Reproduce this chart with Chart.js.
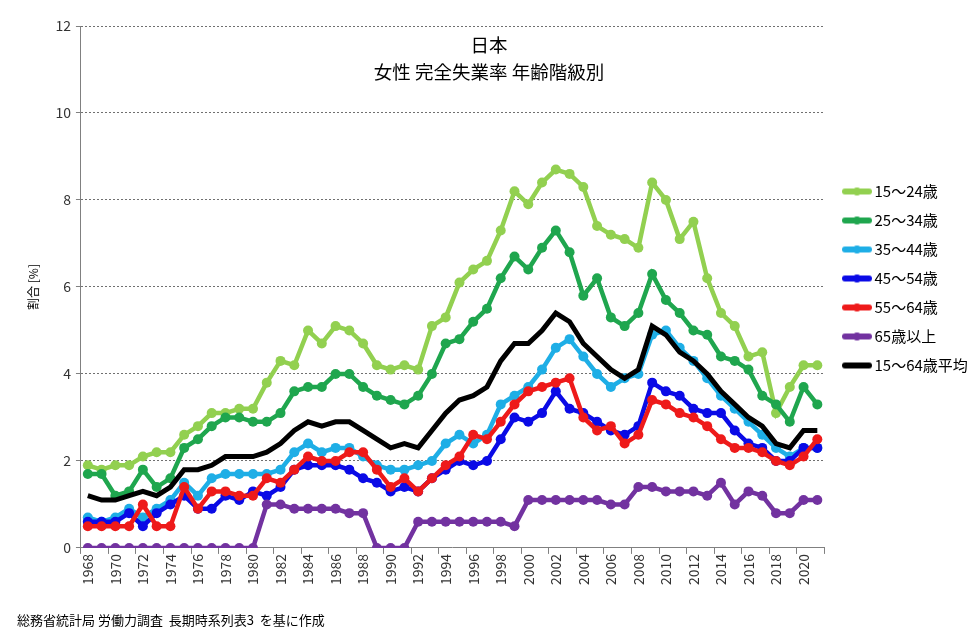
<html>
<head>
<meta charset="utf-8">
<style>
  body { margin: 0; background: #fff; }
  #wrap { position: relative; width: 978px; height: 639px; }
  #title { position: absolute; left: 0; top: 31px; width: 978px; text-align: center;
           font: 18.5px "Noto Sans CJK JP", sans-serif; line-height: 27px; color: #000; }
  #source { position: absolute; left: 17px; top: 610px; white-space: pre;
            font: 13px "Noto Sans CJK JP", sans-serif; color: #000; }
</style>
</head>
<body>
<div id="wrap">
  <canvas id="myChart" width="978" height="639"></canvas>
  <div id="title">日本<br>女性 完全失業率 年齢階級別</div>
  <div id="source">総務省統計局 労働力調査  長期時系列表3  を基に作成</div>
</div>

<script src="https://cdn.jsdelivr.net/npm/chart.js"></script>
<script>
  const years = ['1968','1969','1970','1971','1972','1973','1974','1975','1976','1977',
                 '1978','1979','1980','1981','1982','1983','1984','1985','1986','1987',
                 '1988','1989','1990','1991','1992','1993','1994','1995','1996','1997',
                 '1998','1999','2000','2001','2002','2003','2004','2005','2006','2007',
                 '2008','2009','2010','2011','2012','2013','2014','2015','2016','2017',
                 '2018','2019','2020','2021'];

  const age15_24 = [1.9,1.8,1.9,1.9,2.1,2.2,2.2,2.6,2.8,3.1, 3.1,3.2,3.2,3.8,4.3,4.2,5.0,4.7,5.1,5.0,
                    4.7,4.2,4.1,4.2,4.1,5.1,5.3,6.1,6.4,6.6, 7.3,8.2,7.9,8.4,8.7,8.6,8.3,7.4,7.2,7.1,
                    6.9,8.4,8.0,7.1,7.5,6.2,5.4,5.1,4.4,4.5, 3.1,3.7,4.2,4.2];
  const age25_34 = [1.7,1.7,1.2,1.3,1.8,1.4,1.6,2.3,2.5,2.8, 3.0,3.0,2.9,2.9,3.1,3.6,3.7,3.7,4.0,4.0,
                    3.7,3.5,3.4,3.3,3.5,4.0,4.7,4.8,5.2,5.5, 6.2,6.7,6.4,6.9,7.3,6.8,5.8,6.2,5.3,5.1,
                    5.4,6.3,5.7,5.4,5.0,4.9,4.4,4.3,4.1,3.5, 3.3,2.9,3.7,3.3];
  const age35_44 = [0.7,0.6,0.7,0.9,0.7,0.9,1.1,1.5,1.2,1.6, 1.7,1.7,1.7,1.7,1.8,2.2,2.4,2.2,2.3,2.3,
                    2.1,1.9,1.8,1.8,1.9,2.0,2.4,2.6,2.4,2.6, 3.3,3.5,3.7,4.1,4.6,4.8,4.4,4.0,3.7,3.9,
                    4.0,4.9,5.0,4.6,4.3,3.9,3.5,3.2,2.9,2.6, 2.3,2.1,2.3,2.3];
  const age45_54 = [0.6,0.6,0.6,0.8,0.5,0.8,1.0,1.2,0.9,0.9, 1.2,1.1,1.3,1.2,1.4,1.8,1.9,1.9,1.9,1.8,
                    1.6,1.5,1.3,1.4,1.3,1.6,1.8,2.0,1.9,2.0, 2.5,3.0,2.9,3.1,3.6,3.2,3.1,2.9,2.7,2.6,
                    2.8,3.8,3.6,3.5,3.2,3.1,3.1,2.7,2.4,2.3, 2.0,2.0,2.3,2.3];
  const age55_64 = [0.5,0.5,0.5,0.5,1.0,0.5,0.5,1.4,0.9,1.3, 1.3,1.2,1.2,1.6,1.5,1.8,2.1,2.0,2.0,2.2,
                    2.2,1.8,1.4,1.6,1.3,1.6,1.9,2.1,2.6,2.5, 2.9,3.3,3.6,3.7,3.8,3.9,3.0,2.7,2.8,2.4,
                    2.6,3.4,3.3,3.1,3.0,2.8,2.5,2.3,2.3,2.2, 2.0,1.9,2.1,2.5];
  const age65plus = [0,0,0,0,0,0,0,0,0,0, 0,0,0,1.0,1.0,0.9,0.9,0.9,0.9,0.8,
                     0.8,0,0,0,0.6,0.6,0.6,0.6,0.6,0.6, 0.6,0.5,1.1,1.1,1.1,1.1,1.1,1.1,1.0,1.0,
                     1.4,1.4,1.3,1.3,1.3,1.2,1.5,1.0,1.3,1.2, 0.8,0.8,1.1,1.1];
  const avg15_64 = [1.2,1.1,1.1,1.2,1.3,1.2,1.4,1.8,1.8,1.9, 2.1,2.1,2.1,2.2,2.4,2.7,2.9,2.8,2.9,2.9,
                    2.7,2.5,2.3,2.4,2.3,2.7,3.1,3.4,3.5,3.7, 4.3,4.7,4.7,5.0,5.4,5.2,4.7,4.4,4.1,3.9,
                    4.1,5.1,4.9,4.5,4.3,4.0,3.6,3.3,3.0,2.8, 2.4,2.3,2.7,2.7];

  const seriesNames = ['15～24歳','25～34歳','35～44歳','45～54歳','55～64歳','65歳以上','15～64歳平均'];
  const seriesData = [age15_24, age25_34, age35_44, age45_54, age55_64, age65plus, avg15_64];
  const colors = ['#92d050','#1fa64e','#1eaee6','#0a0ae6','#ee1a1a','#7232a0','#000000'];
  const yTicks = [0, 2, 4, 6, 8, 10, 12];

  // little line-with-dot picture for the legend
  function legendIcon(color, dot) {
    const c = document.createElement('canvas');
    c.width = 30; c.height = 12;
    const g = c.getContext('2d');
    g.strokeStyle = color; g.lineWidth = 6; g.lineCap = 'round';
    g.beginPath(); g.moveTo(3, 6); g.lineTo(27, 6); g.stroke();
    if (dot) {
      g.fillStyle = color;
      g.beginPath(); g.arc(15, 6, 4, 0, Math.PI * 2); g.fill();
    }
    return c;
  }

  const datasets = seriesData.map((d, i) => {
    const isAvg = i === seriesData.length - 1;
    return {
      label: seriesNames[i],
      data: d,
      borderColor: colors[i],
      backgroundColor: colors[i],
      borderWidth: isAvg ? 5 : 4.5,
      pointRadius: isAvg ? 0 : 5,
      pointHoverRadius: isAvg ? 0 : 5,
      pointBorderWidth: 0,
      tension: 0,
      order: seriesData.length - 1 - i,
      icon: legendIcon(colors[i], !isAvg)
    };
  });

  // put the legend where the original has it
  const legendSpot = {
    id: 'legendSpot',
    afterLayout(c) {
      const lg = c.legend;
      const dx = 833 - lg.left;
      const dy = 177 - (lg.top + lg.bottom - lg.columnSizes[0].height) / 2;
      lg.left += dx; lg.right += dx;
      lg.top += dy; lg.bottom += dy;
    }
  };

  const ctx = document.getElementById('myChart');

  chart = new Chart(ctx, {
    type: 'line',
    data: { labels: years, datasets: datasets },
    plugins: [legendSpot],
    options: {
      responsive: false,
      animation: false,
      layout: { padding: { left: 26, right: 9, top: 26, bottom: 54 } },
      plugins: {
        title: { display: false },
        tooltip: { enabled: false },
        legend: {
          position: 'right',
          labels: {
            usePointStyle: true,
            pointStyleWidth: 20,
            padding: 14,
            color: '#000',
            font: { family: '"Noto Sans CJK JP", sans-serif', size: 15 },
            sort: (a, b) => a.datasetIndex - b.datasetIndex,
            generateLabels: (c) => Chart.defaults.plugins.legend.labels.generateLabels(c).map((l) => {
              l.pointStyle = c.data.datasets[l.datasetIndex].icon;
              return l;
            })
          }
        }
      },
      scales: {
        x: {
          offset: true,
          grid: {
            offset: true,
            drawOnChartArea: false,
            tickLength: 6,
            color: (c) => (c.index === undefined || c.index % 2 === 0) ? '#808080' : 'rgba(0,0,0,0)'
          },
          border: { color: '#808080', width: 1 },
          ticks: {
            autoSkip: false,
            maxRotation: 90,
            minRotation: 90,
            padding: 0,
            color: '#333',
            font: { family: '"Noto Sans CJK JP", sans-serif', size: 14 },
            callback: (v, i) => (i % 2 === 0 ? years[i] : '')
          }
        },
        y: {
          min: 0,
          max: 12,
          afterBuildTicks: (s) => { s.ticks = yTicks.map((v) => ({ value: v })); },
          grid: { color: '#707070', lineWidth: 1, tickLength: 5, tickColor: '#808080' },
          border: { color: '#808080', width: 1, dash: [2, 2] },
          ticks: {
            padding: 5,
            color: '#333',
            font: { family: '"Noto Sans CJK JP", sans-serif', size: 14 }
          },
          title: {
            display: true,
            text: '割合 [%]',
            color: '#000',
            padding: { top: 0, bottom: 10 },
            font: { family: '"Noto Sans CJK JP", sans-serif', size: 12 }
          }
        }
      }
    }
  });
</script>
</body>
</html>
